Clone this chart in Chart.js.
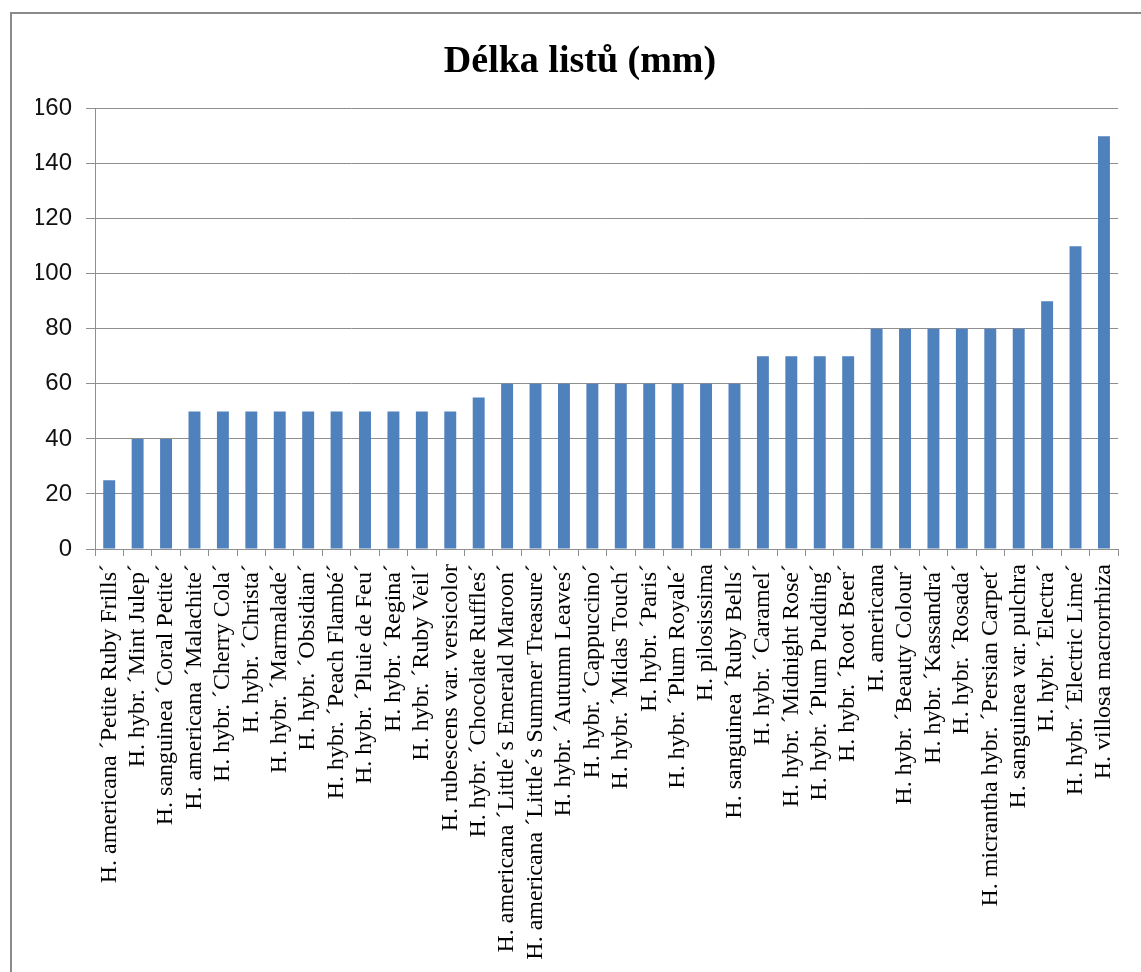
<!doctype html>
<html>
<head>
    <meta charset="utf-8">
    <title>Délka listů (mm)</title>
    <script src="https://cdn.jsdelivr.net/npm/chart.js@4.4.0/dist/chart.umd.min.js"></script>
    <style>
        body { margin: 0; overflow: hidden; background: #fff; }
        .frame { position: absolute; left: 10px; top: 12px; width: 1200px; height: 1000px; border: 2px solid #8a8a8a; }
        #myChart { position: absolute; left: 0; top: 0; }
    </style>
</head>
<body>
<div class="frame"></div>
<canvas id="myChart" width="1141" height="972"></canvas>

<script>
    // názvy taxonů (osa x)
    var labels = [
        'H. americana \u00B4Petite Ruby Frills\u00B4',
        'H. hybr. \u00B4Mint Julep\u00B4',
        'H. sanguinea \u00B4Coral Petite\u00B4',
        'H. americana \u00B4Malachite\u00B4',
        'H. hybr. \u00B4Cherry Cola\u00B4',
        'H. hybr. \u00B4Christa\u00B4',
        'H. hybr. \u00B4Marmalade\u00B4',
        'H. hybr. \u00B4Obsidian\u00B4',
        'H. hybr. \u00B4Peach Flambé\u00B4',
        'H. hybr. \u00B4Pluie de Feu\u00B4',
        'H. hybr. \u00B4Regina\u00B4',
        'H. hybr. \u00B4Ruby Veil\u00B4',
        'H. rubescens var. versicolor',
        'H. hybr. \u00B4Chocolate Ruffles\u00B4',
        'H. americana \u00B4Little\u00B4s Emerald Maroon\u00B4',
        'H. americana \u00B4Little\u00B4s Summer Treasure\u00B4',
        'H. hybr. \u00B4Autumn Leaves\u00B4',
        'H. hybr. \u00B4Cappuccino\u00B4',
        'H. hybr. \u00B4Midas Touch\u00B4',
        'H. hybr. \u00B4Paris\u00B4',
        'H. hybr. \u00B4Plum Royale\u00B4',
        'H. pilosissima',
        'H. sanguinea \u00B4Ruby Bells\u00B4',
        'H. hybr. \u00B4Caramel\u00B4',
        'H. hybr. \u00B4Midnight Rose\u00B4',
        'H. hybr. \u00B4Plum Pudding\u00B4',
        'H. hybr. \u00B4Root Beer\u00B4',
        'H. americana',
        'H. hybr. \u00B4Beauty Colour\u00B4',
        'H. hybr. \u00B4Kassandra\u00B4',
        'H. hybr. \u00B4Rosada\u00B4',
        'H. micrantha hybr. \u00B4Persian Carpet\u00B4',
        'H. sanguinea var. pulchra',
        'H. hybr. \u00B4Electra\u00B4',
        'H. hybr. \u00B4Electric Lime\u00B4',
        'H. villosa macrorrhiza'
    ];

    // délka listů v mm
    var delka = [25, 40, 40, 50, 50, 50, 50, 50, 50, 50, 50, 50, 50, 55,
        60, 60, 60, 60, 60, 60, 60, 60, 60, 70, 70, 70, 70,
        80, 80, 80, 80, 80, 80, 90, 110, 150];

    var yMin = 0;
    var yMax = 160;
    var yStep = 20;

    var ctx = document.getElementById("myChart").getContext("2d");
    var myChart = new Chart(ctx, {
        type: 'bar',
        data: {
            labels: labels,
            datasets: [{
                label: 'Délka listů (mm)',
                data: delka,
                backgroundColor: '#4F81BD',
                borderWidth: 0,
                barPercentage: 0.42,
                categoryPercentage: 1.0
            }]
        },
        options: {
            responsive: false,
            animation: false,
            layout: { padding: { left: 36, right: 17, top: 0, bottom: 0 } },
            plugins: {
                legend: { display: false },
                tooltip: { enabled: false },
                title: {
                    display: true,
                    text: 'Délka listů (mm)',
                    color: '#000',
                    font: { family: 'Liberation Serif', size: 38, weight: 'bold' },
                    padding: { top: 39, bottom: 24 }
                }
            },
            scales: {
                x: {
                    grid: { drawOnChartArea: false, drawTicks: true, tickLength: 7, color: '#8f8f8f', offset: true },
                    border: { color: '#8f8f8f', width: 1 },
                    ticks: {
                        autoSkip: false,
                        minRotation: 90,
                        maxRotation: 90,
                        padding: 8,
                        color: '#000',
                        font: { family: 'Liberation Serif', size: 24 }
                    },
                    afterFit: function (scale) { scale.height = 423; }
                },
                y: {
                    min: yMin,
                    max: yMax,
                    ticks: {
                        stepSize: yStep,
                        padding: 14,
                        color: '#111',
                        font: { family: 'Liberation Sans', size: 24 }
                    },
                    grid: { color: '#8f8f8f', tickLength: 9 },
                    border: { color: '#8f8f8f', width: 1 },
                    afterFit: function (scale) { scale.width = 59; }
                }
            }
        }
    });
</script>
</body>
</html>
